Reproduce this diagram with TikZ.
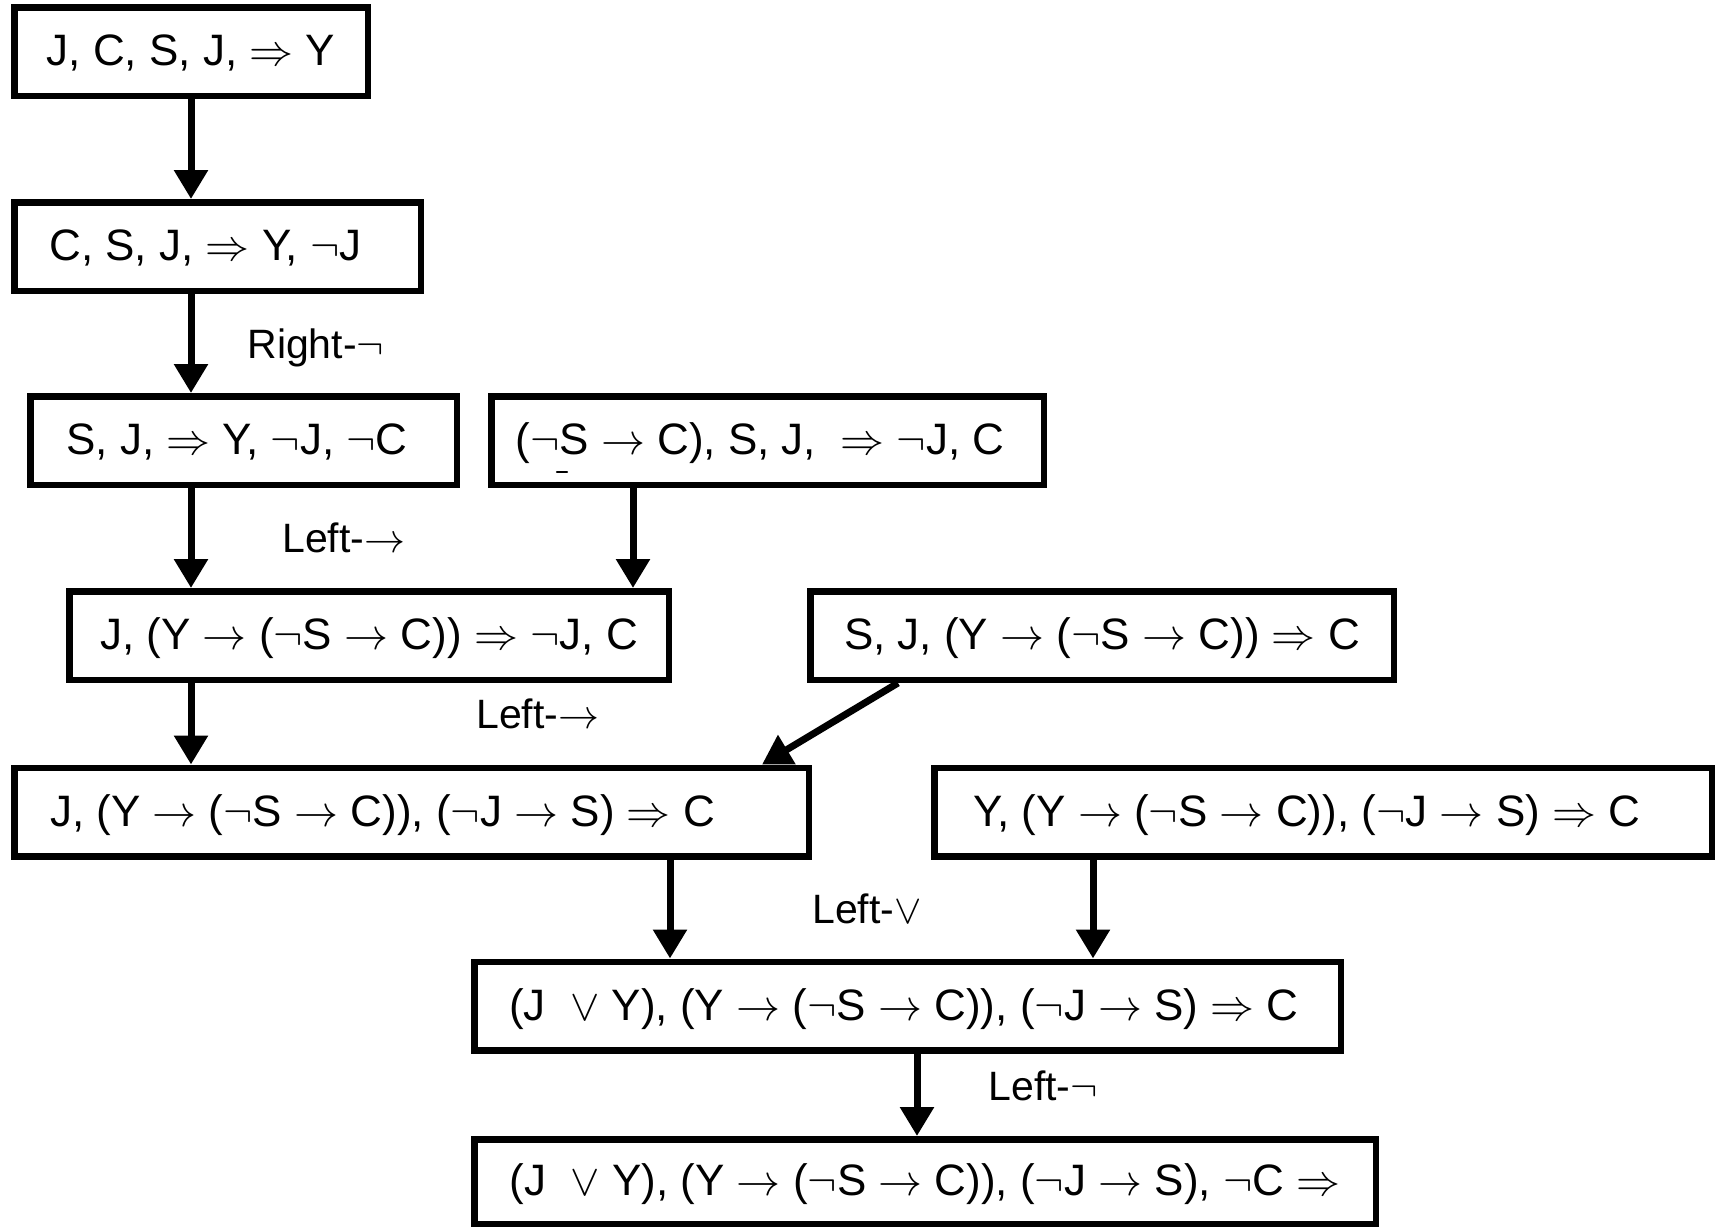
\documentclass[tikz,border=0pt]{standalone}
\usepackage{fix-cm}
\usepackage{fontspec}
\setmainfont{Liberation Sans}
\usetikzlibrary{arrows.meta}

\begin{document}
\begin{tikzpicture}[x=0.5pt, y=-0.5pt,
		seq/.style={draw, rectangle, line width=3.25pt, minimum height=44.25pt, inner sep=0pt, text height=17.5pt, text depth=3.5pt, font=\fontsize{22}{26}\selectfont},
		lbl/.style={anchor=base west, inner sep=0pt, font=\fontsize{20.5}{24}\selectfont},
		flow/.style={-{Triangle[width=16.3pt, length=14.5pt]}, line width=3.5pt}]
		\useasboundingbox (0,0) rectangle (1715,1227);
		\node[seq, minimum width=176.75pt] (s1) at (191, 51.5) {J, C, S, J, $\Rightarrow$ Y};
		\node[seq, minimum width=203.25pt] (s2) at (217.5, 246.5) {C, S, J, $\Rightarrow$ Y, $\neg$J\hspace*{12pt}};
		\node[seq, minimum width=213.25pt] (s3) at (243.5, 440.5) {S, J, $\Rightarrow$ Y, $\neg$J, $\neg$C\hspace*{6.5pt}};
		\node[seq, minimum width=276.25pt] (s4) at (767.5, 440.5) {($\neg$S $\rightarrow$ C), S, J,\ \ $\Rightarrow$ $\neg$J, C\hspace*{7.5pt}};
		\node[seq, minimum width=299.75pt] (s5) at (369, 635.5) {J, (Y $\rightarrow$ ($\neg$S $\rightarrow$ C)) $\Rightarrow$ $\neg$J, C};
		\node[seq, minimum width=291.75pt] (s6) at (1102, 635.5) {S, J, (Y $\rightarrow$ ($\neg$S $\rightarrow$ C)) $\Rightarrow$ C};
		\node[seq, minimum width=397.25pt] (s7) at (411.5, 812) {J, (Y $\rightarrow$ ($\neg$S $\rightarrow$ C)), ($\neg$J $\rightarrow$ S) $\Rightarrow$ C\hspace*{29pt}};
		\node[seq, minimum width=388.75pt] (s8) at (1323, 812) {Y, (Y $\rightarrow$ ($\neg$S $\rightarrow$ C)), ($\neg$J $\rightarrow$ S) $\Rightarrow$ C\hspace*{16pt}};
		\node[seq, minimum width=433.25pt] (s9) at (907.5, 1006) {(J\ \ $\vee$ Y), (Y $\rightarrow$ ($\neg$S $\rightarrow$ C)), ($\neg$J $\rightarrow$ S) $\Rightarrow$ C\hspace*{3.5pt}};
		\node[seq, minimum width=450.75pt, minimum height=42.25pt] (s10) at (925, 1181.5) {(J\ \ $\vee$ Y), (Y $\rightarrow$ ($\neg$S $\rightarrow$ C)), ($\neg$J $\rightarrow$ S), $\neg$C $\Rightarrow$};
		\draw[line width=1.2pt, line cap=round] (557,472) -- (567,472);
		\draw[flow] (s1) -- (s2.north -| s1);
		\draw[flow] (s2.south -| s1) -- (s3.north -| s1);
		\draw[flow] (s3.south -| s1) -- (s5.north -| s1);
		\draw[flow] ([xshift=-67.25pt]s4.south) -- ([xshift=-67.25pt]s4.south |- s5.north);
		\draw[flow] (s5.south -| s1) -- (s7.north -| s1);
		\draw[flow] ([xshift=-102pt]s6.south) -- ([xshift=175.25pt]s7.north);
		\draw[flow] ([xshift=129.25pt]s7.south) -- ([xshift=129.25pt]s7.south |- s9.north);
		\draw[flow] ([xshift=-115pt]s8.south) -- ([xshift=-115pt]s8.south |- s9.north);
		\draw[flow] ([xshift=4.75pt]s9.south) -- ([xshift=4.75pt]s9.south |- s10.north);
		\node[lbl] (r1) at (247, 358) {Right-$\neg$};
		\node[lbl] (r2) at (282, 552) {Left-$\rightarrow$};
		\node[lbl] (r3) at (476, 728) {Left-$\rightarrow$};
		\node[lbl] (r4) at (812, 923) {Left-$\vee$};
		\node[lbl] (r5) at (988, 1100) {Left-$\neg$};
	\end{tikzpicture}
\end{document}
